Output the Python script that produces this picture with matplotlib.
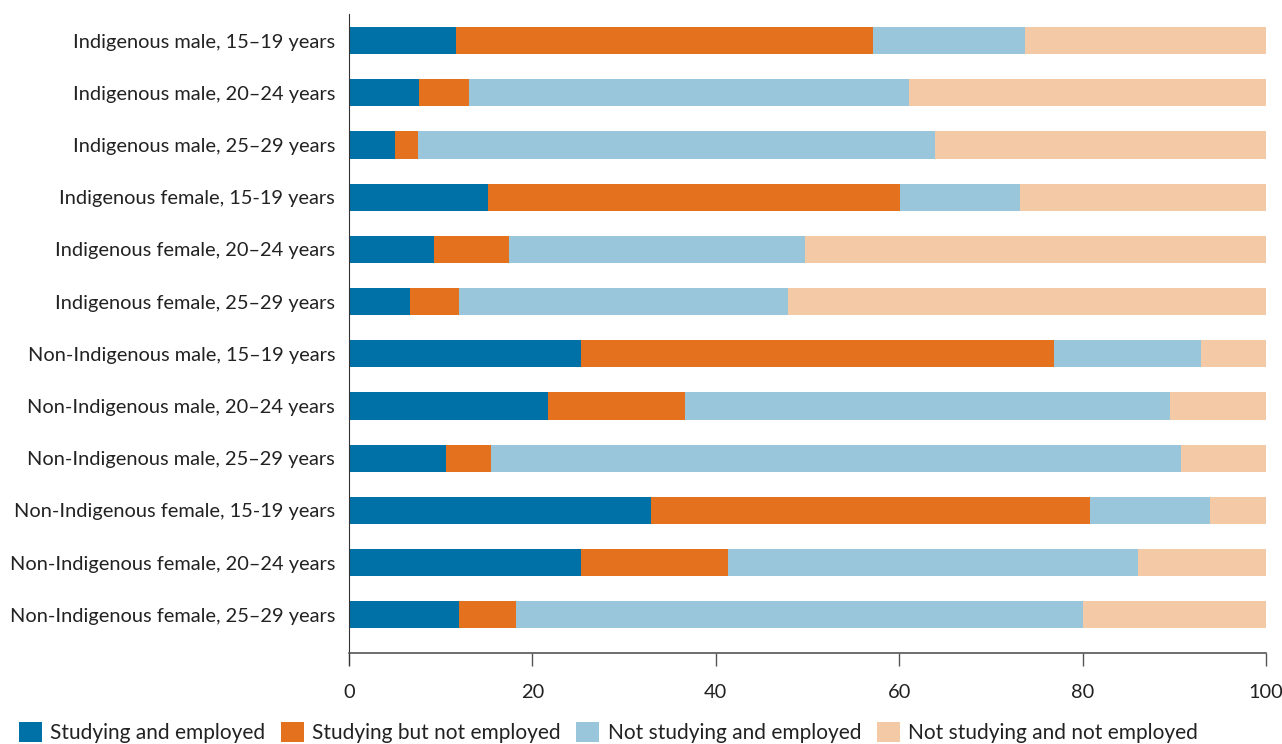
import numpy as np
import matplotlib.pyplot as plt

plt.rcParams['font.family'] = ['Lato', 'DejaVu Sans']

# Rows, top to bottom
groups = [
    "Indigenous male, 15–19 years",
    "Indigenous male, 20–24 years",
    "Indigenous male, 25–29 years",
    "Indigenous female, 15-19 years",
    "Indigenous female, 20–24 years",
    "Indigenous female, 25–29 years",
    "Non-Indigenous male, 15–19 years",
    "Non-Indigenous male, 20–24 years",
    "Non-Indigenous male, 25–29 years",
    "Non-Indigenous female, 15-19 years",
    "Non-Indigenous female, 20–24 years",
    "Non-Indigenous female, 25–29 years",
]

# percentages
studying_employed = [11.7, 7.6, 5.0, 15.2, 9.3, 6.7, 25.3, 21.7, 10.6, 32.9, 25.3, 12.0]
studying_not_employed = [45.4, 5.5, 2.5, 44.9, 8.1, 5.3, 51.6, 14.9, 4.9, 47.9, 16.0, 6.2]
not_studying_employed = [16.6, 48.0, 56.4, 13.1, 32.3, 35.9, 16.0, 52.9, 75.2, 13.1, 44.7, 61.8]
not_studying_not_employed = [26.3, 38.9, 36.1, 26.8, 50.3, 52.1, 7.1, 10.5, 9.3, 6.1, 14.0, 20.0]

series = [studying_employed, studying_not_employed, not_studying_employed, not_studying_not_employed]
series_names = ["Studying and employed", "Studying but not employed",
                "Not studying and employed", "Not studying and not employed"]
colours = ["#0071a6", "#e4711e", "#9ac6db", "#f4c9a6"]

fig = plt.figure(figsize=(12.82, 7.44), dpi=100)
ax = fig.add_axes([0.2722, 0.1223, 0.7153, 0.8589])

y = np.arange(len(groups))
left = np.zeros(len(groups))
for vals, name, col in zip(series, series_names, colours):
    ax.barh(y, vals, left=left, height=0.52, color=col, label=name)
    left += np.array(vals)

ax.set_xlim(0, 100)
ax.set_ylim(len(groups) - 1 + 0.73, -0.51)
ax.set_yticks(y)
ax.set_yticklabels(groups, fontsize=14.4, color="#222222")
ax.set_xticks([0, 20, 40, 60, 80, 100])
ax.tick_params(axis='y', length=0, pad=10)
ax.tick_params(axis='x', length=9, width=1, color="#555555", labelsize=14.4,
               labelcolor="#222222", pad=13)

for s in ['top', 'right']:
    ax.spines[s].set_visible(False)
ax.spines['left'].set_color("#333333")
ax.spines['left'].set_bounds(len(groups) - 1 + 0.73 + 0.23, -0.51)
ax.spines['bottom'].set_color("#555555")
ax.spines['bottom'].set_linewidth(1.2)

fig.legend(loc='lower left', bbox_to_anchor=(0.0, -0.024), ncol=4, frameon=False,
           fontsize=15, handlelength=1.1, handleheight=1.1, handletextpad=0.4,
           columnspacing=0.75, labelcolor="#222222")

fig.savefig("out.png", dpi=100)
